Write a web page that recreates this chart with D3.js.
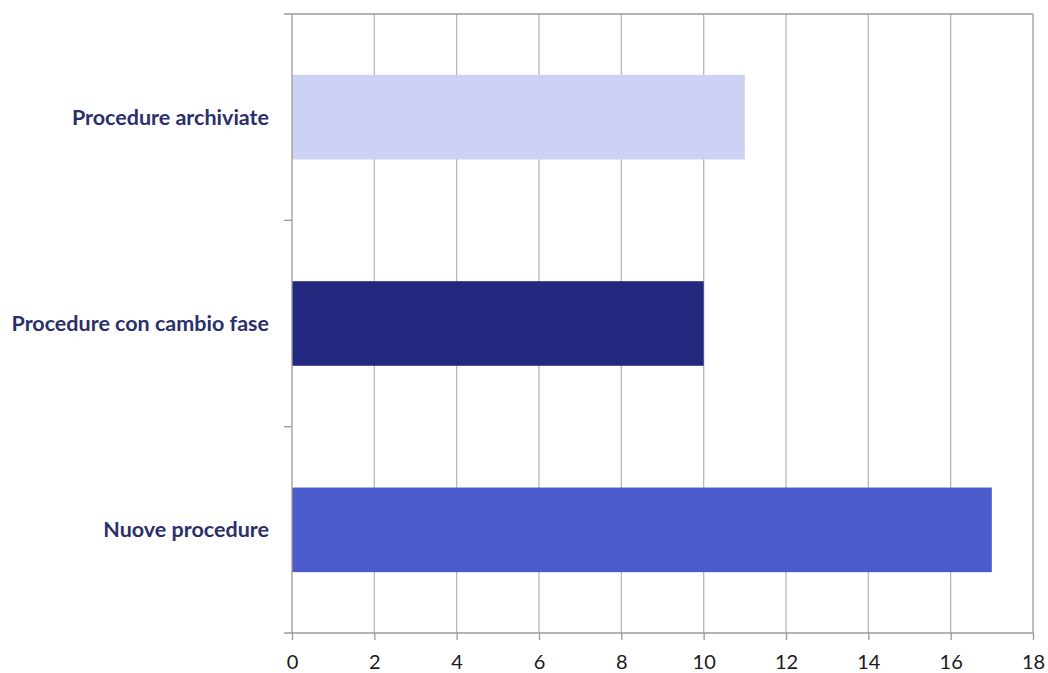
<!DOCTYPE html>
<html><head><meta charset="utf-8">
<script src="https://cdn.jsdelivr.net/npm/d3@7"></script>
<style>body{margin:0;background:#fff;}svg{display:block;}</style>
</head><body>
<script>
const categories = ["Procedure archiviate", "Procedure con cambio fase", "Nuove procedure"];
const values = [11, 10, 17];
const colors = ["#cdd2f4", "#23297e", "#4c5bcb"];
const xTicks = [0, 2, 4, 6, 8, 10, 12, 14, 16, 18];

const W = 1048, H = 673;
const m = {left: 292, right: 15, top: 14, bottom: 40};
const svg = d3.select("body").append("svg").attr("width", W).attr("height", H);

const x = d3.scaleLinear().domain([0, 18]).range([m.left, W - m.right]);
const y = d3.scaleBand().domain(categories).range([m.top, H - m.bottom])
  .paddingInner(0.59).paddingOuter(0.295);

// gridlines
svg.append("g").selectAll("line").data(xTicks.slice(1)).join("line")
  .attr("x1", d => x(d)).attr("x2", d => x(d))
  .attr("y1", m.top).attr("y2", H - m.bottom)
  .attr("stroke", "#b8b8b8").attr("stroke-width", 1.3);

// bars
svg.append("g").selectAll("rect").data(categories).join("rect")
  .attr("x", x(0)).attr("y", d => y(d))
  .attr("width", (d, i) => x(values[i]) - x(0))
  .attr("height", y.bandwidth())
  .attr("fill", (d, i) => colors[i]);

// x axis
const xa = svg.append("g").attr("transform", `translate(0,${H - m.bottom})`)
  .call(d3.axisBottom(x).tickValues(xTicks).tickSize(7).tickPadding(15));
xa.select(".domain").remove();
xa.selectAll(".tick line").attr("stroke", "#9a9a9a").attr("stroke-width", 1.3);
xa.selectAll(".tick text").attr("font-family", "Lato, sans-serif").attr("font-size", 20).attr("fill", "#1a1a1a");

// frame lines
svg.append("line").attr("x1", m.left - 8).attr("x2", W - m.right)
  .attr("y1", H - m.bottom).attr("y2", H - m.bottom).attr("stroke", "#9a9a9a").attr("stroke-width", 1.3);
svg.append("line").attr("x1", m.left - 8).attr("x2", W - m.right)
  .attr("y1", m.top).attr("y2", m.top).attr("stroke", "#9a9a9a").attr("stroke-width", 1.3);
svg.append("line").attr("x1", m.left).attr("x2", m.left)
  .attr("y1", m.top).attr("y2", H - m.bottom).attr("stroke", "#9a9a9a").attr("stroke-width", 1.3);
svg.append("line").attr("x1", W - m.right).attr("x2", W - m.right)
  .attr("y1", m.top).attr("y2", H - m.bottom).attr("stroke", "#b0b0b0").attr("stroke-width", 1.3);

// category boundary ticks on y axis
const bounds = [1, 2];
svg.append("g").selectAll("line").data(bounds).join("line")
  .attr("x1", m.left - 8).attr("x2", m.left)
  .attr("y1", d => m.top + d * (H - m.bottom - m.top) / 3)
  .attr("y2", d => m.top + d * (H - m.bottom - m.top) / 3)
  .attr("stroke", "#9a9a9a").attr("stroke-width", 1.3);

// category labels
svg.append("g").selectAll("text").data(categories).join("text")
  .attr("x", m.left - 23).attr("y", d => y(d) + y.bandwidth() / 2)
  .attr("dy", "0.35em").attr("text-anchor", "end")
  .attr("font-family", "Lato, sans-serif").attr("font-weight", "bold")
  .attr("font-size", 21.5).attr("fill", "#2b2f6a")
  .text(d => d);
</script>
</body></html>
